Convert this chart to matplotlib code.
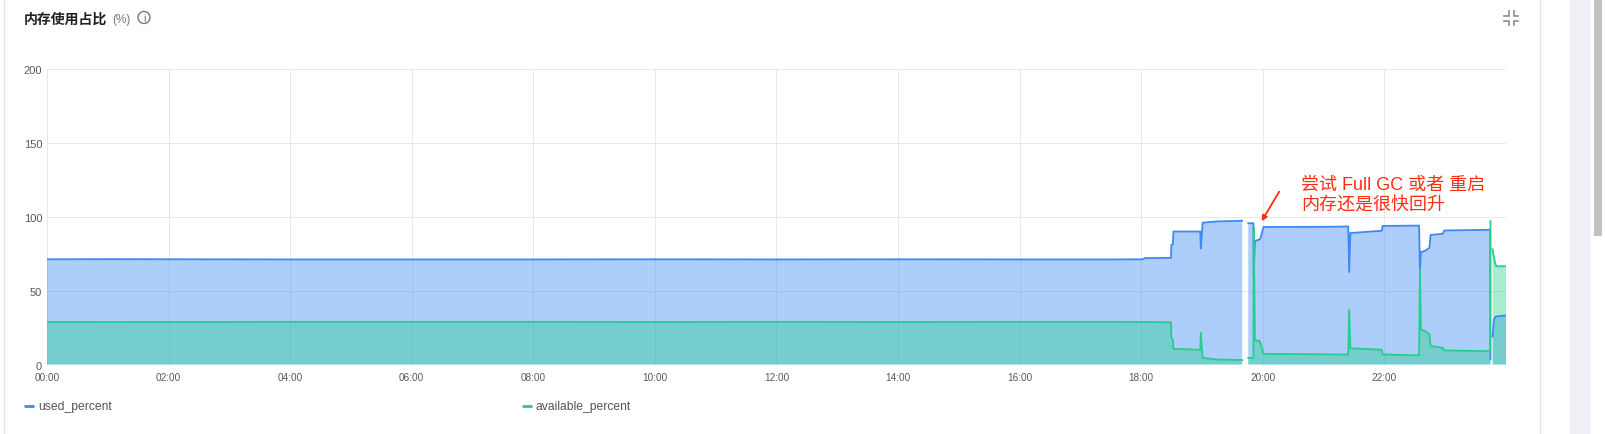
import numpy as np
import matplotlib
matplotlib.use("Agg")
import matplotlib.pyplot as plt
from matplotlib.patches import Circle, Rectangle

plt.rcParams['font.family'] = ['Liberation Sans', 'Noto Sans CJK SC', 'DejaVu Sans']

nan = float('nan')

# hours since midnight, nan rows are the holes in the data
hours = [0, 1, 2.5, 4, 6, 8, 10, 12, 14, 16, 17.5, 18.02, 18.06, 18.49, 18.495, 18.52, 18.53, 18.97, 18.98, 19.01, 19.24, 19.66,
         19.70, 19.76, 19.845, 19.85, 19.87, 19.95, 19.975, 20.01, 21.0, 21.405, 21.42, 21.44, 21.955, 21.97, 22.57,
         22.585, 22.60, 22.67, 22.74, 22.76, 22.96, 22.985, 23.74, 23.745, 23.76, 23.78, 23.80, 23.82, 23.84, 24]
used_percent = [71.2, 71.3, 71.2, 71.1, 71.1, 71.1, 71.2, 71.1, 71.2, 71.1, 71.1, 71.2, 72, 72.2, 81, 81.4, 90, 90, 78.6, 96, 96.8, 97.3,
                nan, 95.6, 95.6, 60, 83.6, 84.7, 87.4, 93.1, 93.2, 93.4, 62.6, 89, 90.5, 93.8, 94,
                64.4, 76, 77, 79, 87.7, 88.5, 90.7, 91.2, 3.5, nan, 19, 30, 32, 32.5, 33.2]
available_percent = [28.8, 28.7, 28.8, 28.9, 28.9, 28.9, 28.8, 28.9, 28.8, 28.9, 28.9, 28.8, 28.7, 28.6, 18, 17, 10.6, 10, 21.6, 4.5, 3.4, 3,
                     nan, 4.5, 4.5, 93, 16.5, 15.9, 12.5, 7.2, 6.9, 6.7, 37.3, 11, 10, 6.8, 6.2,
                     64.4, 23.7, 22.6, 20.4, 12.5, 11.3, 9.5, 9, 97, nan, 78, 73, 69, 66.5, 66.5]

x_ticks = list(range(0, 24, 2))
x_labels = ['%02d:00' % h for h in x_ticks]
y_ticks = [0, 50, 100, 150, 200]

W, H = 1605, 435
fig = plt.figure(figsize=(W / 100, H / 100), dpi=100)

# page chrome, drawn in pixel coordinates
bg = fig.add_axes([0, 0, 1, 1])
bg.set_xlim(0, W)
bg.set_ylim(H, 0)
bg.axis('off')
bg.plot([3.5, 3.5], [0, H], color='#E2E2E2', lw=1)
bg.plot([1539.5, 1539.5], [0, H], color='#E2E2E2', lw=1)
bg.add_patch(Rectangle((1570, 0), 21, H, color='#EFF1F6', lw=0))
bg.add_patch(Rectangle((1594, 0), 8, 237, color='#C1C1C1', lw=0))

bg.text(24, 20, '内存使用占比', fontsize=10, fontweight='bold', color='#222222', va='center',
        family=['Noto Sans CJK SC', 'DejaVu Sans'])
bg.text(112, 20.5, '(%)', fontsize=8.5, color='#777777', va='center')
bg.add_patch(Circle((144, 18.5), 6, fill=False, ec='#777777', lw=1))
bg.text(144, 18.5, 'i', fontsize=8, color='#777777', ha='center', va='center')

# collapse icon
for sx, sy in [(-1, -1), (1, -1), (-1, 1), (1, 1)]:
    cx, cy = 1511 + sx * 2.5, 19 + sy * 2.5
    bg.plot([cx, cx, cx + sx * 4.5], [cy + sy * 4.5, cy, cy], color='#8C8C8C', lw=1.2, solid_joinstyle='miter')

# legend, laid out by hand like the original
bg.plot([24, 34], [407, 407], color='#3D89F5', lw=2, solid_capstyle='butt')
bg.text(38, 407, 'used_percent', fontsize=8.7, color='#555555', va='center')
bg.plot([522, 532], [407, 407], color='#25CE8D', lw=2, solid_capstyle='butt')
bg.text(536, 407, 'available_percent', fontsize=8.7, color='#555555', va='center')

left, right, top, bottom = 47, 1506, 70, 365.5
ax = fig.add_axes([left / W, 1 - bottom / H, (right - left) / W, (bottom - top) / H])
ax.patch.set_alpha(0)
ax.set_xlim(0, 24)
ax.set_ylim(0, 200)
ax.set_xticks(x_ticks, x_labels)
ax.set_yticks(y_ticks)
ax.tick_params(length=0, labelsize=7.2, labelcolor='#595959')
ax.tick_params(axis='x', pad=5.5)
ax.tick_params(axis='y', pad=3.5, labelsize=8)
ax.grid(True, color='#E8E8E8', lw=0.7)
ax.set_axisbelow(True)
for s in ax.spines.values():
    s.set_visible(False)

t = np.array(hours)
used = np.array(used_percent)
avail = np.array(available_percent)
ax.fill_between(t, used, 0, color='#3D89F5', alpha=0.42, lw=0, zorder=2)
ax.fill_between(t, avail, 0, color='#25CE8D', alpha=0.40, lw=0, zorder=2.1)
ax.plot(t, used, color='#3D89F5', lw=1.3, zorder=3)
ax.plot(t, avail, color='#25CE8D', lw=1.3, zorder=3.1)

red = '#FF2D12'
ax.annotate('', xy=(19.98, 97), xytext=(20.27, 117), zorder=5,
            arrowprops=dict(arrowstyle='-|>', color=red, lw=1.3, mutation_scale=8, shrinkA=0, shrinkB=0))
ax.text(20.63, 122.2, '尝试 Full GC 或者 重启', fontsize=13, color=red, va='center', zorder=5,
        family=['Liberation Sans', 'Noto Sans CJK SC'])
ax.text(20.63, 108.6, '内存还是很快回升', fontsize=13, color=red, va='center', zorder=5,
        family=['Liberation Sans', 'Noto Sans CJK SC'])

fig.savefig('out.png', dpi=100)
